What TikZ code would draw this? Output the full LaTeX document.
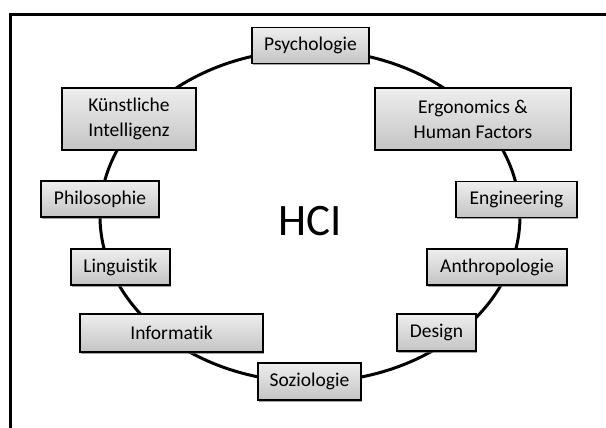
\documentclass[tikz,border=0pt]{standalone}
\usepackage{fontspec}
\setmainfont{Carlito}[Ligatures=CommonOff]
\usetikzlibrary{shadows}
\definecolor{boxtop}{RGB}{238,238,238}
\definecolor{boxbottom}{RGB}{196,196,196}
\begin{document}
\begin{tikzpicture}[x=1pt,y=-1pt,
  field/.style={draw=black, line width=1.5pt, top color=boxtop, bottom color=boxbottom,
    align=center, inner sep=0pt, minimum height=36pt,
    font=\fontsize{19.5}{25}\selectfont,
    drop shadow={shadow xshift=1.2pt, shadow yshift=-1.5pt, fill=black!60, opacity=0.6}},
  ring/.style={line width=3pt},
  frameline/.style={line width=3pt}]
\useasboundingbox (0,0) rectangle (606,428);
% outer frame (open towards right and bottom)
\coordinate (fa) at (10.5,428);
\coordinate (fb) at (10.5,15);
\coordinate (fc) at (606,15);
\draw[frameline] (fa) -- (fb) -- (fc);
% ring of disciplines
\coordinate (hub) at (310,216);
\draw[ring] (hub) ellipse [x radius=210, y radius=166];
% central label
\node[font=\fontsize{45}{50}\selectfont] (hci) at (310,221) {HCI};
% discipline boxes
\node[field, minimum width=117pt] (psy) at (310.5,45.5) {Psychologie};
\node[field, minimum width=134pt, minimum height=62pt] (ki) at (129,119) {Künstliche\\Intelligenz};
\node[field, minimum width=196pt, minimum height=62pt] (erg) at (473,119) {Ergonomics \&\\Human Factors};
\node[field, minimum width=118pt] (phil) at (100,199) {Philosophie};
\node[field, minimum width=121pt] (eng) at (516.5,199.5) {Engineering};
\node[field, minimum width=99pt] (ling) at (120.5,267) {Linguistik};
\node[field, minimum width=140pt] (anth) at (497,267) {Anthropologie};
\node[field, minimum width=183pt, minimum height=38pt] (inf) at (171.5,333) {Informatik};
\node[field, minimum width=79pt, minimum height=37pt] (des) at (436.5,332.5) {Design};
\node[field, minimum width=103pt, minimum height=37pt] (soz) at (309.5,381.5) {Soziologie};
\end{tikzpicture}
\end{document}
